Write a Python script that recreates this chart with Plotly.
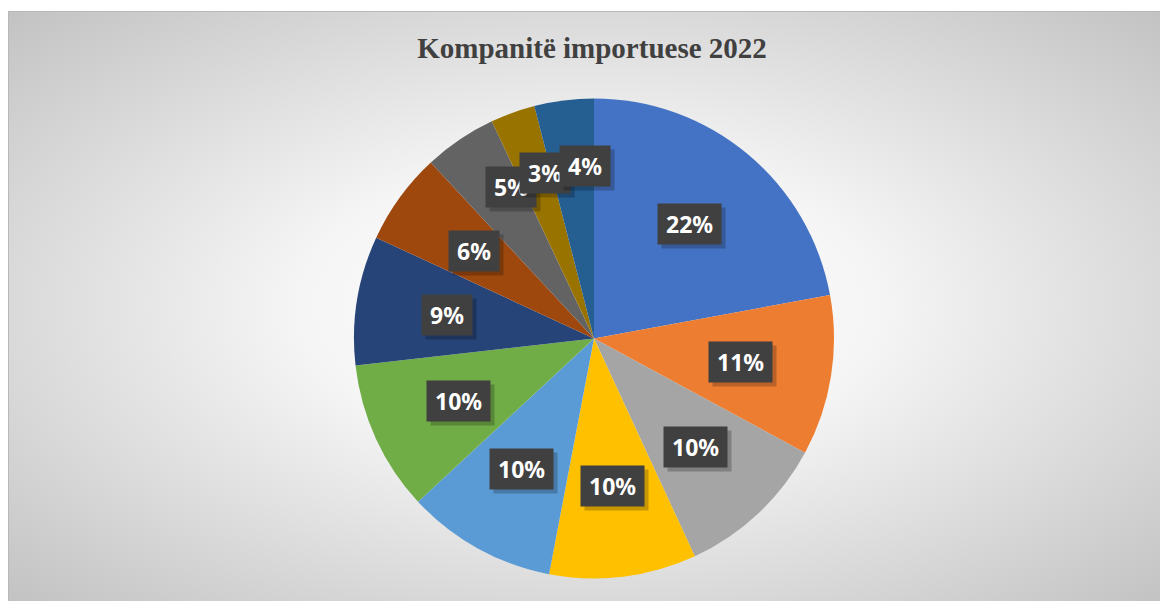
import base64
import math
import plotly.graph_objects as go

# Kompanitë importuese 2022 - pjesët e tregut (%)
COMPANIES = ["Kompania 1", "Kompania 2", "Kompania 3", "Kompania 4", "Kompania 5",
             "Kompania 6", "Kompania 7", "Kompania 8", "Kompania 9", "Kompania 10",
             "Kompania 11"]
SHARES = [22.1, 10.8, 10.2, 9.9, 10.1, 10.1, 8.7, 6.2, 4.9, 3.0, 4.0]
COLORS = ["#4472C4", "#ED7D31", "#A5A5A5", "#FFC000", "#5B9BD5", "#70AD47",
          "#264478", "#9E480E", "#636363", "#997300", "#255E91"]
TITLE = "Kompanitë importuese 2022"

W, H = 1168, 601
OFF = 8  # faqja e vendos figuren 8 px poshte/djathtas
CX, CY, R = 594 - OFF, 338.5 - OFF, 240  # qendra dhe rrezja e pites ne piksela

# sfondi me gradient radial (si ne Excel)
svg = """<svg xmlns="http://www.w3.org/2000/svg" width="1160" height="590" viewBox="0 0 1160 590" preserveAspectRatio="none">
<defs><radialGradient id="g" cx="50%" cy="50%" r="71%">
<stop offset="0%" stop-color="#ffffff"/>
<stop offset="35%" stop-color="#f5f5f5"/>
<stop offset="100%" stop-color="#c2c2c2"/>
</radialGradient></defs>
<rect x="0.5" y="0.5" width="1160" height="590" fill="url(#g)" stroke="#b8b8b8" stroke-width="1"/>
</svg>"""
bg_src = "data:image/svg+xml;base64," + base64.b64encode(svg.encode()).decode()

fig = go.Figure(go.Pie(
    labels=COMPANIES,
    values=SHARES,
    marker=dict(colors=COLORS, line=dict(width=0)),
    sort=False,
    direction="clockwise",
    rotation=0,
    textinfo="none",
    hoverinfo="label+percent",
    domain=dict(x=[(CX - R) / W, (CX + R) / W],
                y=[(H - CY - R) / H, (H - CY + R) / H]),
))

# etiketat me kuti te erreta
total = sum(SHARES)
cum = 0
annotations = []
for v in SHARES:
    small = v / total < 0.06
    # per fetat e vogla etiketa shtyhet pak ne drejtim te akrepave
    ang = 2 * math.pi * (cum + v * (0.8 if small else 0.5)) / total
    cum += v
    frac = 0.72 if small else 0.62
    px = CX + R * frac * math.sin(ang)
    py = CY - R * frac * math.cos(ang)
    txt = f"{round(100 * v / total)}%"
    common = dict(x=px / W, y=1 - py / H, xref="paper", yref="paper",
                  xanchor="center", yanchor="middle",
                  showarrow=False, borderpad=8, height=24)
    annotations.append(dict(text=txt, bgcolor="rgba(0,0,0,0.22)", xshift=4, yshift=-4,
                            font=dict(family="Noto Sans", size=23, weight="bold",
                                      color="rgba(0,0,0,0)"), **common))
    annotations.append(dict(text=txt, bgcolor="#404040",
                            font=dict(family="Noto Sans", size=23, weight="bold",
                                      color="white"), **common))

fig.update_layout(
    width=W,
    height=H,
    margin=dict(l=0, r=0, t=0, b=0),
    paper_bgcolor="white",
    showlegend=False,
    title=dict(text=TITLE, x=(592 - OFF) / W, y=1 - (48 - OFF) / H,
               xanchor="center", yanchor="middle",
               font=dict(family="Liberation Serif", size=29, color="#404040", weight="bold")),
    images=[dict(source=bg_src, xref="paper", yref="paper", x=0, y=1 - 3 / H,
                 sizex=1160 / W, sizey=590 / H, sizing="stretch", layer="below",
                 xanchor="left", yanchor="top")],
    annotations=annotations,
)

fig.write_html("out.html")
